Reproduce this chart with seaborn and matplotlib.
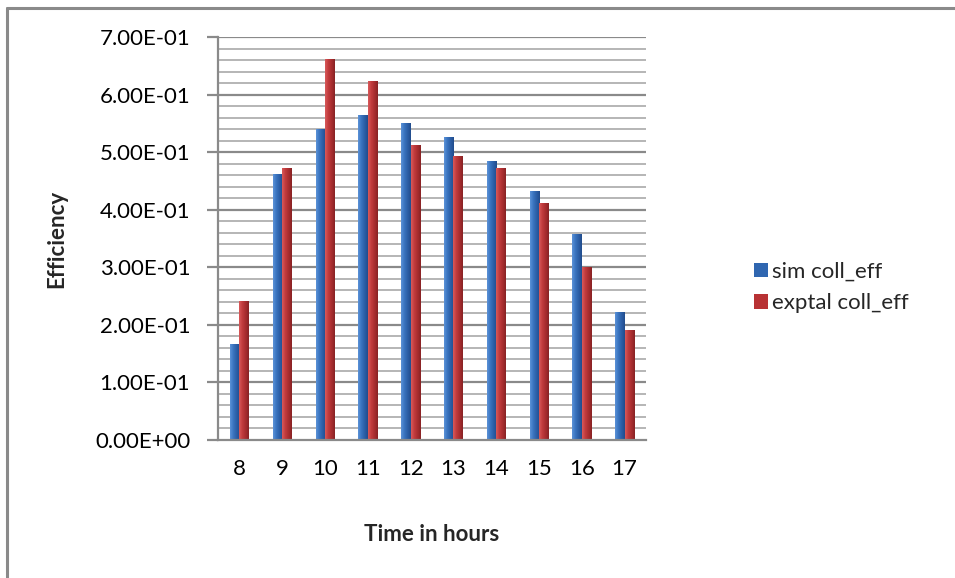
import numpy as np
import pandas as pd
import matplotlib
matplotlib.use("Agg")
import matplotlib.pyplot as plt
from matplotlib.colors import LinearSegmentedColormap
from matplotlib.lines import Line2D
from matplotlib.patches import Patch
import seaborn as sns

# Collector efficiency per hour of the day
hours = [8, 9, 10, 11, 12, 13, 14, 15, 16, 17]
sim_coll_eff = [0.167, 0.462, 0.540, 0.564, 0.551, 0.526, 0.484, 0.433, 0.358, 0.222]
exptal_coll_eff = [0.241, 0.472, 0.662, 0.623, 0.512, 0.494, 0.472, 0.412, 0.300, 0.191]
series_names = ["sim coll_eff", "exptal coll_eff"]
y_ticks = [0.0, 0.1, 0.2, 0.3, 0.4, 0.5, 0.6, 0.7]

df = pd.DataFrame({
    "hour": hours * 2,
    "eff": sim_coll_eff + exptal_coll_eff,
    "series": [series_names[0]] * len(hours) + [series_names[1]] * len(hours),
})

base_colors = {"sim coll_eff": "#2F66B0", "exptal coll_eff": "#B83234"}
grad_maps = {
    "sim coll_eff": LinearSegmentedColormap.from_list(
        "blue_bar", ["#5C93D8", "#3A74C0", "#2C5FA6", "#214C8C"]),
    "exptal coll_eff": LinearSegmentedColormap.from_list(
        "red_bar", ["#D85A5B", "#C13B3D", "#A82D2F", "#872224"]),
}

sns.set_style("white")
plt.rcParams["font.family"] = ["Lato", "DejaVu Sans"]
FS = 16

fig = plt.figure(figsize=(9.55, 5.78), dpi=100)
ax = fig.add_axes([218 / 955, 1 - 440 / 578, (646 - 218) / 955, (440 - 37) / 578])

sns.barplot(data=df, x="hour", y="eff", hue="series", palette=base_colors,
            width=0.44, ax=ax, legend=False, saturation=1, edgecolor="none",
            zorder=3)

# Horizontal shading on each bar
grad = np.linspace(0, 1, 64).reshape(1, -1)
n = len(hours)
for i, patch in enumerate(ax.patches):
    name = series_names[0] if i < n else series_names[1]
    x0, y0 = patch.get_x(), patch.get_y()
    w, h = patch.get_width(), patch.get_height()
    im = ax.imshow(grad, cmap=grad_maps[name], aspect="auto",
                   extent=(x0, x0 + w, y0, y0 + h), zorder=4,
                   interpolation="bilinear")
    im.set_clip_path(patch)

ax.set_xlim(-0.5, len(hours) - 0.5)
ax.set_ylim(0, 0.7)
ax.set_yticks(y_ticks)
ax.set_yticklabels([f"{v:.2E}" for v in y_ticks])

# Grid: major and minor lines
for v in np.arange(0.02, 0.7001, 0.02):
    is_major = abs(round(v * 10) - v * 10) < 1e-6
    ax.axhline(v, color="#8a8a8a" if is_major else "#b5b5b5",
               lw=1.6 if is_major else 1.4, zorder=1)

for s in ["top", "right"]:
    ax.spines[s].set_visible(False)
for s in ["left", "bottom"]:
    ax.spines[s].set_color("#8a8a8a")
    ax.spines[s].set_linewidth(1.6)
    ax.spines[s].set_zorder(5)

ax.tick_params(axis="y", which="major", direction="out", length=8, width=1.6,
               color="#8a8a8a", pad=12, labelsize=FS, left=True)
ax.tick_params(axis="x", length=0, pad=14, labelsize=FS)
for t in ax.get_xticklabels() + ax.get_yticklabels():
    t.set_color("#000000")

ax.set_xlabel("Time in hours", fontsize=FS, fontweight="bold", labelpad=32)
ax.set_ylabel("Efficiency", fontsize=FS, fontweight="bold", labelpad=20)

handles = [Patch(facecolor=base_colors[s], edgecolor="none") for s in series_names]
fig.legend(handles, series_names, loc="upper left",
           bbox_to_anchor=(745 / 955, 1 - 253 / 578), frameon=False,
           fontsize=FS, handlelength=0.65, handleheight=0.65,
           handletextpad=0.15, labelspacing=0.5, borderaxespad=0)

# Chart-area frame
fig.add_artist(Line2D([6.5 / 955, 6.5 / 955], [0, 1 - 7.5 / 578],
                      transform=fig.transFigure, color="#8a8a8a", lw=2.2))
fig.add_artist(Line2D([6.5 / 955, 1], [1 - 7.5 / 578, 1 - 7.5 / 578],
                      transform=fig.transFigure, color="#8a8a8a", lw=2.2))

fig.savefig("out.png", dpi=100)
